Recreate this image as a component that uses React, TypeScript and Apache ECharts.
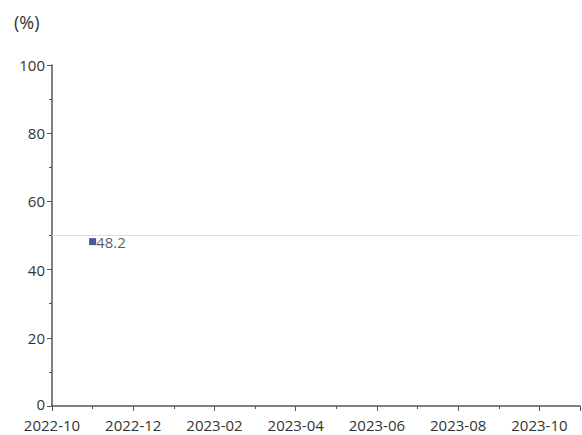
import React, { useEffect, useRef } from "react";
import * as echarts from "echarts";

const startMonth = "2022-10";
const endMonth = "2023-11";
const dates = ["2022-11"];
const values = [48.2];
const referenceLevel = 50;
const yTicks = [0, 20, 40, 60, 80, 100];

function monthIndex(s: string): number {
  const [y, m] = s.split("-").map(Number);
  const [y0, m0] = startMonth.split("-").map(Number);
  return (y - y0) * 12 + (m - m0);
}
function monthLabel(i: number): string {
  const [y0, m0] = startMonth.split("-").map(Number);
  const t = y0 * 12 + (m0 - 1) + i;
  const y = Math.floor(t / 12);
  const m = (t % 12) + 1;
  return `${y}-${String(m).padStart(2, "0")}`;
}

export default function App() {
  const ref = useRef<HTMLDivElement>(null);
  useEffect(() => {
    if (!ref.current) return;
    const chart = echarts.init(ref.current, undefined, { renderer: "svg" });
    const axisColor = "#555";
    const textColor = "#333";
    const font = "'Open Sans', sans-serif";
    chart.setOption({
      animation: false,
      grid: { left: 52, right: 2, top: 65, bottom: 29, containLabel: false },
      graphic: [
        {
          type: "text",
          left: 14,
          top: 13,
          style: { text: "(%)", fontSize: 18, fill: textColor, fontFamily: font },
        },
      ],
      xAxis: {
        type: "value",
        min: 0,
        max: monthIndex(endMonth),
        interval: 2,
        axisLine: { show: true, onZero: false, lineStyle: { color: axisColor, width: 1.5 } },
        axisTick: { show: true, length: 5, lineStyle: { color: axisColor } },
        minorTick: { show: true, splitNumber: 2, length: 3, lineStyle: { color: axisColor } },
        splitLine: { show: false },
        axisLabel: {
          color: textColor,
          fontSize: 15,
          lineHeight: 15,
          fontFamily: font,
          margin: 11,
          showMaxLabel: false,
          formatter: (v: number) => monthLabel(v),
        },
      },
      yAxis: {
        type: "value",
        min: 0,
        max: 100,
        interval: 20,
        axisLine: { show: true, lineStyle: { color: axisColor, width: 1.5 } },
        axisTick: { show: true, length: 5, lineStyle: { color: axisColor } },
        minorTick: { show: true, splitNumber: 2, length: 3, lineStyle: { color: axisColor } },
        splitLine: { show: false },
        axisLabel: {
          color: textColor,
          fontSize: 15,
          lineHeight: 14,
          fontFamily: font,
          margin: 7,
          formatter: (v: number) =>
            yTicks.includes(v) ? (v === 0 ? "{z|0}" : String(v)) : "",
          rich: {
            z: {
              fontSize: 15,
              lineHeight: 14,
              fontFamily: font,
              color: textColor,
              padding: [0, 0, 4, 0],
            },
          },
        },
      },
      series: [
        {
          type: "scatter",
          symbol: "rect",
          symbolSize: 7,
          itemStyle: { color: "#1f2d78" },
          data: dates.map((d, i) => [monthIndex(d), values[i]]),
          label: {
            show: true,
            position: "right",
            distance: 0,
            color: textColor,
            fontSize: 15,
            fontFamily: font,
            formatter: (p: any) => String(p.value[1]),
          },
          markLine: {
            silent: true,
            symbol: "none",
            label: { show: false },
            lineStyle: { color: "#ddd", type: "solid", width: 1 },
            data: [{ yAxis: referenceLevel }],
          },
        },
      ],
    });
    return () => chart.dispose();
  }, []);
  return (
    <div
      ref={ref}
      style={{ position: "absolute", left: 0, top: 0, width: 582, height: 435 }}
    />
  );
}
